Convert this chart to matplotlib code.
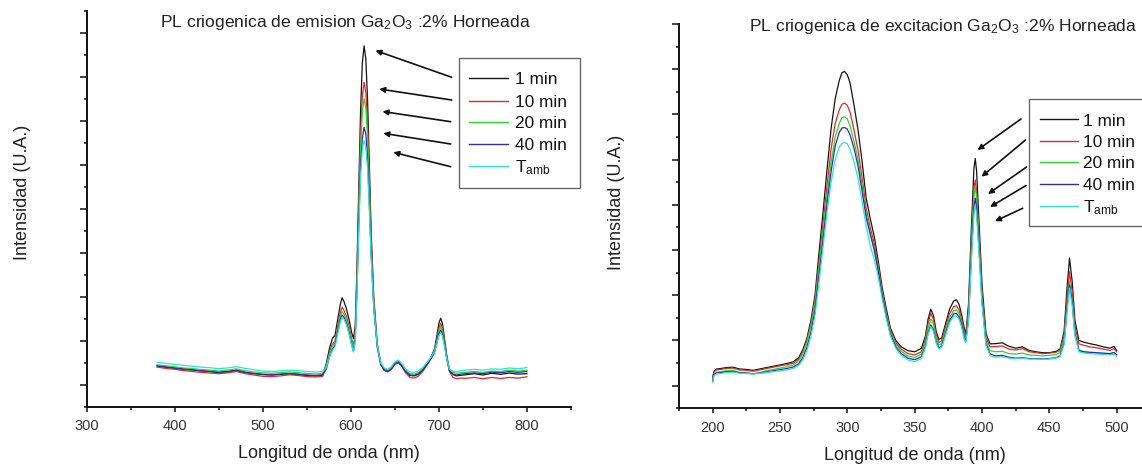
import matplotlib
matplotlib.use("Agg")
import matplotlib.pyplot as plt
from matplotlib.lines import Line2D
from matplotlib.patches import Rectangle, FancyArrowPatch
from matplotlib.ticker import FixedLocator, MultipleLocator, NullFormatter

plt.rcParams['font.family'] = ['Liberation Sans', 'DejaVu Sans']
plt.rcParams['mathtext.fontset'] = 'custom'
plt.rcParams['mathtext.rm'] = 'Liberation Sans'
plt.rcParams['mathtext.it'] = 'Liberation Sans:italic'
plt.rcParams['mathtext.bf'] = 'Liberation Sans:bold'

# ---------------- data ----------------
series_labels = ['1 min', '10 min', '20 min', '40 min', r'T$_{\mathrm{amb}}$']
series_colors = ['#151515', '#e8262a', '#2bd62b', '#2e2ea8', '#2ee0e0']

# emission spectra (wavelength in nm, intensity in arbitrary units)
em_wl = [380, 390, 400, 410, 420, 430, 440, 450, 460, 470, 480, 490, 500, 510, 520,
         530, 540, 550, 560, 568, 572, 576, 579, 582, 585, 588, 590, 592, 595, 598,
         601, 603, 605, 607, 609, 611, 613, 615, 617, 619, 621, 623, 626, 630, 634,
         638, 642, 646, 650, 654, 658, 662, 667, 672, 677, 682, 687, 691, 695, 698,
         700, 702, 704, 706, 709, 712, 716, 720, 725, 730, 740, 750, 760, 770, 780,
         790, 800]
em_1min = [1.86, 1.80, 1.76, 1.71, 1.68, 1.63, 1.60, 1.56, 1.60, 1.66, 1.56, 1.50, 1.46, 1.44, 1.47,
           1.50, 1.47, 1.42, 1.40, 1.43, 1.95, 2.70, 3.10, 3.25, 3.95, 4.65, 4.95, 4.80, 4.45, 3.95,
           3.35, 3.10, 3.70, 6.40, 10.0, 13.4, 15.6, 16.4, 15.8, 13.9, 11.0, 8.0, 5.0, 2.85, 1.95,
           1.68, 1.62, 1.72, 1.95, 2.02, 1.86, 1.60, 1.42, 1.40, 1.48, 1.68, 1.98, 2.25, 2.62, 3.30,
           3.80, 4.02, 3.78, 3.20, 2.30, 1.70, 1.46, 1.40, 1.43, 1.45, 1.50, 1.44, 1.52, 1.47, 1.53,
           1.48, 1.50]
em_10min = [1.80, 1.74, 1.70, 1.64, 1.60, 1.56, 1.53, 1.50, 1.54, 1.60, 1.50, 1.44, 1.38, 1.37, 1.40,
            1.45, 1.42, 1.37, 1.35, 1.38, 1.85, 2.50, 2.85, 3.00, 3.65, 4.28, 4.52, 4.40, 4.10, 3.65,
            3.05, 2.80, 3.40, 6.00, 9.2, 12.3, 14.1, 14.75, 14.3, 12.8, 10.2, 7.5, 4.7, 2.75, 1.90,
            1.64, 1.58, 1.70, 1.93, 2.00, 1.82, 1.55, 1.33, 1.30, 1.40, 1.62, 1.92, 2.18, 2.52, 3.12,
            3.58, 3.79, 3.58, 3.05, 2.20, 1.60, 1.33, 1.27, 1.30, 1.29, 1.33, 1.27, 1.33, 1.28, 1.33,
            1.30, 1.36]
em_20min = [1.90, 1.86, 1.81, 1.76, 1.73, 1.69, 1.66, 1.62, 1.66, 1.72, 1.63, 1.58, 1.54, 1.52, 1.55,
            1.58, 1.55, 1.51, 1.49, 1.52, 1.85, 2.45, 2.75, 2.92, 3.55, 4.10, 4.32, 4.22, 3.95, 3.52,
            2.95, 2.65, 3.25, 5.80, 8.9, 11.8, 13.4, 14.0, 13.6, 12.3, 9.9, 7.3, 4.7, 2.80, 1.98,
            1.72, 1.66, 1.78, 2.00, 2.08, 1.92, 1.66, 1.50, 1.48, 1.56, 1.74, 2.02, 2.25, 2.55, 3.05,
            3.45, 3.64, 3.46, 2.98, 2.22, 1.70, 1.55, 1.52, 1.55, 1.56, 1.60, 1.56, 1.62, 1.60, 1.66,
            1.62, 1.66]
em_40min = [1.85, 1.80, 1.75, 1.70, 1.67, 1.63, 1.60, 1.56, 1.59, 1.65, 1.56, 1.51, 1.47, 1.45, 1.48,
            1.51, 1.48, 1.44, 1.42, 1.45, 1.70, 2.30, 2.60, 2.80, 3.40, 3.95, 4.17, 4.07, 3.80, 3.35,
            2.80, 2.50, 3.05, 5.40, 8.3, 10.9, 12.2, 12.7, 12.4, 11.3, 9.2, 6.9, 4.5, 2.70, 1.92,
            1.66, 1.60, 1.72, 1.94, 2.02, 1.86, 1.60, 1.44, 1.42, 1.50, 1.68, 1.95, 2.18, 2.45, 2.95,
            3.32, 3.49, 3.32, 2.88, 2.15, 1.62, 1.48, 1.44, 1.48, 1.50, 1.54, 1.50, 1.57, 1.54, 1.60,
            1.56, 1.60]
em_tamb = [2.02, 1.97, 1.92, 1.88, 1.84, 1.80, 1.77, 1.73, 1.76, 1.82, 1.74, 1.68, 1.62, 1.60, 1.63,
           1.66, 1.64, 1.60, 1.58, 1.60, 1.78, 2.30, 2.55, 2.72, 3.30, 3.85, 4.06, 3.98, 3.72, 3.30,
           2.78, 2.50, 3.00, 5.20, 8.0, 10.5, 11.7, 12.1, 11.8, 10.8, 8.9, 6.8, 4.5, 2.75, 2.00,
           1.76, 1.70, 1.82, 2.04, 2.12, 1.96, 1.72, 1.58, 1.56, 1.63, 1.80, 2.04, 2.25, 2.48, 2.92,
           3.22, 3.36, 3.22, 2.82, 2.15, 1.70, 1.62, 1.60, 1.64, 1.66, 1.70, 1.66, 1.72, 1.70, 1.76,
           1.72, 1.78]

# excitation spectra
ex_wl = [200, 201, 203, 206, 210, 215, 220, 225, 230, 235, 240, 245, 250, 255, 260,
         264, 267, 270, 273, 276, 279, 282, 285, 288, 291, 294, 296, 298,
         300, 302, 305, 308, 311, 314, 317, 320, 323, 326, 329, 332, 336, 340,
         345, 350, 355, 358, 360, 362, 364, 366, 368, 370, 373, 376, 379, 381, 383, 385, 387, 388,
         390, 392, 394, 395, 396, 398, 400, 403, 406, 410,
         415, 420, 425, 430, 435, 440, 445, 450, 455,
         458, 461, 463, 465, 467, 469, 472, 476, 480, 485, 490, 495, 498, 500]
ex_1min = [1.35, 1.65, 1.74, 1.76, 1.80, 1.82, 1.74, 1.72, 1.68, 1.74, 1.80, 1.86, 1.92, 1.98, 2.06,
           2.25, 2.60, 3.10, 3.90, 5.00, 6.90, 8.70, 10.6, 12.4, 13.7, 14.5, 14.85, 14.9,
           14.75, 14.4, 13.4, 12.3, 10.9, 9.3, 8.4, 7.6, 6.5, 5.3, 4.4, 3.55, 3.00, 2.72,
           2.55, 2.50, 2.65, 3.20, 3.95, 4.38, 4.10, 3.40, 3.05, 3.10, 3.75, 4.40, 4.75, 4.80, 4.60, 4.10, 3.50, 3.28,
           4.60, 7.80, 10.6, 11.05, 10.5, 8.0, 5.5, 3.30, 2.85, 2.86,
           2.90, 2.74, 2.66, 2.72, 2.56, 2.50, 2.46, 2.46, 2.52,
           2.62, 3.40, 5.20, 6.64, 5.60, 3.90, 3.00, 2.92, 2.86, 2.80, 2.72, 2.66, 2.74, 2.56]
ex_10min = [1.32, 1.62, 1.70, 1.72, 1.76, 1.78, 1.70, 1.68, 1.64, 1.70, 1.76, 1.82, 1.88, 1.93, 2.00,
            2.18, 2.50, 3.00, 3.75, 4.80, 6.50, 8.20, 9.90, 11.5, 12.6, 13.2, 13.45, 13.5,
            13.4, 13.1, 12.3, 11.4, 10.2, 8.85, 8.0, 7.3, 6.3, 5.15, 4.25, 3.45, 2.90, 2.62,
            2.42, 2.36, 2.50, 3.05, 3.75, 4.20, 3.92, 3.25, 2.92, 2.98, 3.60, 4.20, 4.50, 4.53, 4.35, 3.90, 3.35, 3.15,
            4.30, 7.20, 9.70, 10.1, 9.60, 7.40, 5.10, 3.10, 2.72, 2.73,
            2.76, 2.62, 2.58, 2.64, 2.50, 2.46, 2.42, 2.44, 2.48,
            2.56, 3.25, 4.80, 6.04, 5.15, 3.65, 2.85, 2.78, 2.72, 2.68, 2.62, 2.56, 2.64, 2.50]
ex_20min = [1.22, 1.52, 1.60, 1.62, 1.66, 1.68, 1.60, 1.56, 1.52, 1.58, 1.66, 1.72, 1.78, 1.84, 1.92,
            2.10, 2.42, 2.92, 3.65, 4.65, 6.25, 7.85, 9.45, 10.9, 12.0, 12.6, 12.85, 12.9,
            12.8, 12.5, 11.8, 11.0, 9.85, 8.6, 7.8, 7.1, 6.15, 5.05, 4.15, 3.38, 2.82, 2.52,
            2.32, 2.25, 2.40, 2.92, 3.55, 3.95, 3.72, 3.10, 2.80, 2.86, 3.46, 4.02, 4.32, 4.35, 4.18, 3.76, 3.22, 3.04,
            4.15, 6.95, 9.40, 9.80, 9.30, 7.15, 4.95, 2.98, 2.55, 2.50,
            2.52, 2.42, 2.40, 2.44, 2.36, 2.34, 2.32, 2.34, 2.38,
            2.46, 3.05, 4.45, 5.60, 4.80, 3.40, 2.58, 2.48, 2.46, 2.44, 2.42, 2.40, 2.46, 2.38]
ex_40min = [1.20, 1.50, 1.56, 1.58, 1.62, 1.63, 1.57, 1.56, 1.53, 1.56, 1.61, 1.66, 1.71, 1.76, 1.83,
            1.98, 2.25, 2.70, 3.38, 4.35, 5.90, 7.50, 9.10, 10.5, 11.6, 12.2, 12.4, 12.42,
            12.35, 12.1, 11.5, 10.7, 9.6, 8.45, 7.7, 7.0, 6.05, 4.95, 4.05, 3.28, 2.72, 2.42,
            2.22, 2.15, 2.28, 2.75, 3.35, 3.69, 3.48, 2.95, 2.68, 2.74, 3.32, 3.88, 4.18, 4.20, 4.04, 3.65, 3.12, 2.96,
            3.95, 6.60, 8.90, 9.30, 8.85, 6.85, 4.75, 2.85, 2.40, 2.32,
            2.34, 2.26, 2.22, 2.24, 2.20, 2.20, 2.18, 2.20, 2.24,
            2.32, 2.90, 4.30, 5.46, 4.68, 3.30, 2.55, 2.50, 2.48, 2.46, 2.44, 2.42, 2.47, 2.36]
ex_tamb = [1.15, 1.45, 1.52, 1.54, 1.58, 1.60, 1.55, 1.54, 1.52, 1.54, 1.58, 1.62, 1.66, 1.70, 1.76,
           1.90, 2.15, 2.55, 3.20, 4.10, 5.60, 7.15, 8.70, 10.0, 11.0, 11.55, 11.72, 11.75,
           11.7, 11.45, 10.9, 10.15, 9.15, 8.05, 7.2, 6.6, 5.8, 4.8, 3.95, 3.2, 2.65, 2.35,
           2.14, 2.06, 2.20, 2.68, 3.28, 3.61, 3.40, 2.88, 2.62, 2.68, 3.24, 3.80, 4.06, 4.08, 3.94, 3.55, 3.02, 2.90,
           3.85, 6.40, 8.60, 9.00, 8.55, 6.65, 4.60, 2.78, 2.34, 2.26,
           2.28, 2.22, 2.20, 2.22, 2.18, 2.18, 2.16, 2.18, 2.22,
           2.28, 2.82, 4.15, 5.31, 4.55, 3.22, 2.50, 2.44, 2.42, 2.40, 2.38, 2.36, 2.40, 2.30]

em_title = r'PL criogenica de emision Ga$_{2}$O$_{3}$ :2% Horneada'
ex_title = r'PL criogenica de excitacion Ga$_{2}$O$_{3}$ :2% Horneada'
x_label = 'Longitud de onda (nm)'
y_label = 'Intensidad (U.A.)'

# ---------------- figure ----------------
W, H = 1142, 466
fig = plt.figure(figsize=(W / 100, H / 100), dpi=100)


def fx(x):
    return x / W


def fy(y):
    return 1 - y / H


def axes_px(x0, y0, x1, y1):
    return fig.add_axes([fx(x0), fy(y1), (x1 - x0) / W, (y1 - y0) / H])


def style_axes(ax, xlim, ylim, xmajor, xminor):
    ax.set_xlim(*xlim)
    ax.set_ylim(*ylim)
    for side in ('top', 'right'):
        ax.spines[side].set_visible(False)
    for side in ('left', 'bottom'):
        ax.spines[side].set_linewidth(1.4)
        ax.spines[side].set_color('#111111')
    ax.xaxis.set_major_locator(MultipleLocator(xmajor))
    ax.xaxis.set_minor_locator(MultipleLocator(xminor))
    ymax = int(round(ylim[1]))
    ax.yaxis.set_major_locator(FixedLocator(list(range(1, ymax + 1, 2))))
    ax.yaxis.set_minor_locator(FixedLocator(list(range(0, ymax + 1, 2))))
    ax.yaxis.set_major_formatter(NullFormatter())
    ax.tick_params(axis='x', which='major', direction='out', length=3.8, width=1.1,
                   labelsize=10.5, pad=5.2, colors='#111111', labelcolor='#333333')
    ax.tick_params(axis='x', which='minor', direction='out', length=2.4, width=1.1,
                   colors='#111111')
    ax.tick_params(axis='y', which='major', direction='out', length=5.0, width=1.1,
                   colors='#111111')
    ax.tick_params(axis='y', which='minor', direction='out', length=2.4, width=1.1,
                   colors='#111111')
    ax.set_xlabel(x_label, fontsize=13, labelpad=8.5, color='#222222')
    ax.set_ylabel(y_label, fontsize=13, color='#222222')


axL = axes_px(86.7, 10.7, 571.0, 406.7)
axR = axes_px(679.0, 24.0, 1150.3, 408.3)

style_axes(axL, (300, 850), (0, 18), 100, 50)
style_axes(axR, (175, 525), (0, 17), 50, 25)
axL.yaxis.set_label_coords(-0.114, 0.54)
axR.yaxis.set_label_coords(-0.114, 0.537)

em_series = [em_1min, em_10min, em_20min, em_40min, em_tamb]
ex_series = [ex_1min, ex_10min, ex_20min, ex_40min, ex_tamb]
for vals, col in zip(em_series, series_colors):
    axL.plot(em_wl, vals, color=col, lw=0.9)
for vals, col in zip(ex_series, series_colors):
    axR.plot(ex_wl, vals, color=col, lw=0.9)

# titles
fig.text(fx(160), fy(26.7), em_title, fontsize=12.6, color='#222222', ha='left', va='baseline')
fig.text(fx(749), fy(30.7), ex_title, fontsize=12.6, color='#222222', ha='left', va='baseline')


def draw_legend(box, rows, line_x, text_x):
    x0, y0, x1, y1 = box
    fig.add_artist(Rectangle((fx(x0), fy(y1)), (x1 - x0) / W, (y1 - y0) / H,
                             transform=fig.transFigure, fill=False,
                             edgecolor='#666666', lw=1.0))
    for yc, lab, col in zip(rows, series_labels, series_colors):
        fig.add_artist(Line2D([fx(line_x[0]), fx(line_x[1])], [fy(yc), fy(yc)],
                              transform=fig.transFigure, color=col, lw=1.0))
        fig.text(fx(text_x), fy(yc + 6.2), lab, fontsize=12.4, color='#111111',
                 ha='left', va='baseline')


draw_legend((458.5, 57.5, 579.5, 187.7), [78.3, 100.7, 121.7, 144.0, 165.7],
            (469.3, 508.3), 515.0)
draw_legend((1029.3, 99.3, 1160.0, 225.7), [119.3, 141.0, 161.7, 184.0, 206.0],
            (1040.0, 1078.3), 1083.3)


def draw_arrows(pairs):
    for (xt, yt), (xh, yh) in pairs:
        fig.add_artist(FancyArrowPatch((fx(xt), fy(yt)), (fx(xh), fy(yh)),
                                       transform=fig.transFigure, arrowstyle='-|>',
                                       mutation_scale=8, lw=1.2, color='#111111',
                                       shrinkA=0, shrinkB=0))


draw_arrows([((451.7, 77.3), (375.5, 50.5)),
             ((451.7, 100.0), (379.3, 89.0)),
             ((450.7, 121.7), (382.5, 111.5)),
             ((450.7, 144.0), (383.3, 133.3)),
             ((450.7, 166.7), (393.3, 152.3))])
draw_arrows([((1021.0, 119.0), (977.5, 150.0)),
             ((1025.5, 140.0), (981.5, 176.7)),
             ((1026.5, 167.0), (988.0, 194.0)),
             ((1026.0, 185.5), (990.0, 207.0)),
             ((1022.7, 208.3), (995.0, 221.2))])

fig.savefig('out.png', dpi=100, facecolor='white')
